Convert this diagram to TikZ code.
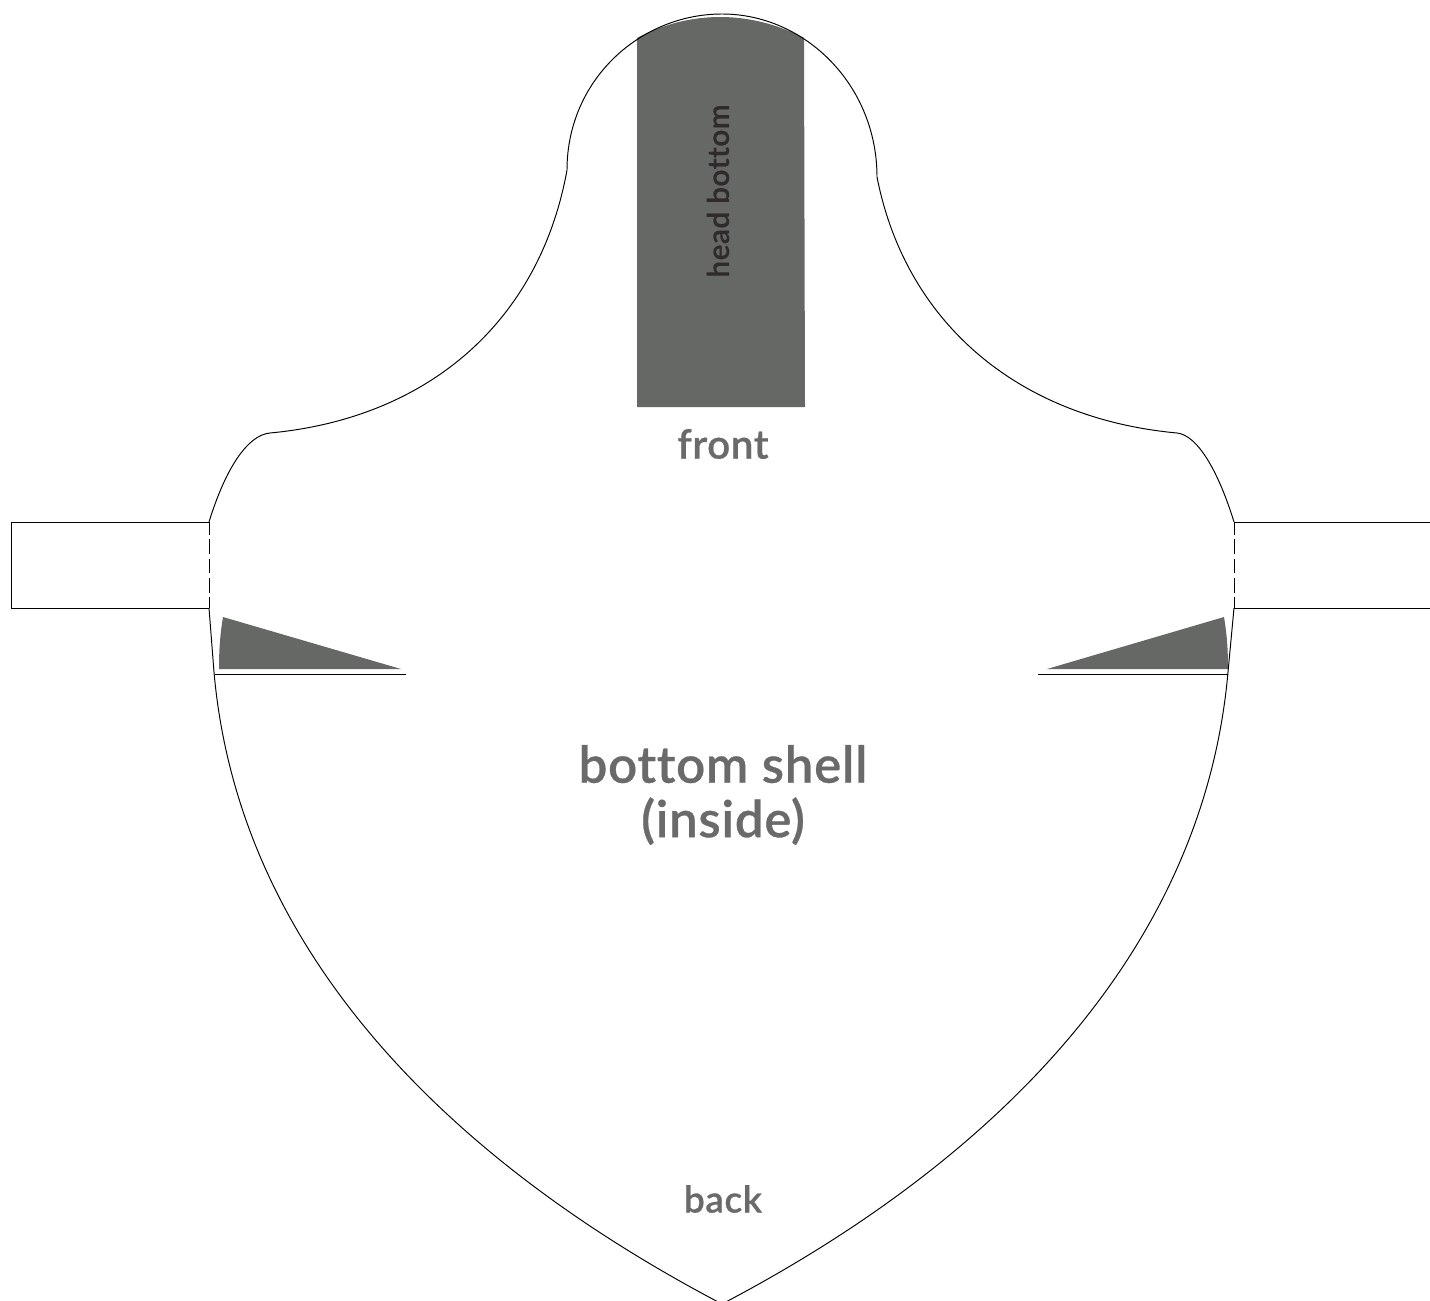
\documentclass[tikz,border=0pt]{standalone}
\usepackage{fontspec}
\setmainfont[BoldFont={Lato Semibold}, BoldFeatures={FakeBold=0.6}, Ligatures=NoCommon, LetterSpace=1.5]{Lato}
\definecolor{shellgray}{HTML}{666866}
\definecolor{labelgray}{HTML}{6A6A6A}
\definecolor{headtext}{HTML}{2F2B2C}
\tikzset{
  outline/.style={black, line width=0.55pt},
  cutline/.style={outline, dash pattern=on 8.5pt off 2.4pt, dash phase=1pt},
  patch/.style={fill=shellgray, draw=none},
  biglabel/.style={text=labelgray, font=\fontsize{29}{31}\selectfont\bfseries, align=center},
  smalllabel/.style={text=labelgray, font=\fontsize{21}{24}\selectfont\bfseries}
}
\begin{document}
\begin{tikzpicture}[x=0.02cm, y=-0.02cm]
        \useasboundingbox (0,0) rectangle (1430,1301);

        % Patches
        \fill[patch] (637,407) -- (637,38) .. controls (690,10) and (750,10) .. (804,38) -- (805,407) -- cycle;
        \fill[patch] (223,617) -- (401,669) -- (219,669) .. controls (219,650) and (220,635) .. (223,617) -- cycle;
        \fill[patch] (1224,617) -- (1047,669) -- (1228,669) .. controls (1228,650) and (1227,635) .. (1224,617) -- cycle;

        % Shell outline
        \draw[outline] (209,522) .. controls (225,470) and (247,435) .. (270,433)
            .. controls (430,418) and (540,320) .. (567,170)
            .. controls (567,80) and (640,14) .. (722,14)
            .. controls (805,14) and (877,85) .. (877,177)
            .. controls (905,320) and (1015,418) .. (1177,433)
            .. controls (1197,435) and (1218,470) .. (1234,522);
        \draw[outline] (209,608) -- (214,672) .. controls (238,945) and (440,1156) .. (722,1304);
        \draw[outline] (1234,608) -- (1228,672) .. controls (1204,945) and (1004,1156) .. (722,1304);

        % Straps
        \draw[outline] (209,522) -- (11.5,522) -- (11.5,608) -- (209,608);
        \draw[outline] (1234,522) -- (1430,522);
        \draw[outline] (1234,608) -- (1430,608);
        \draw[cutline] (209,522) -- (209,608);
        \draw[cutline] (1234,522) -- (1234,608);

        % Slits
        \draw[outline] (215,674) -- (406,674);
        \draw[outline] (1038,674) -- (1228,674);

        % Labels
        \node[biglabel] (shell) at (723,795) {bottom shell\\(inside)};
        \node[smalllabel, font=\fontsize{23}{24}\selectfont\bfseries] (front) at (723,444) {front};
        \node[smalllabel] (back) at (723,1199) {back};
        \node[rotate=90, text=headtext, font=\fontsize{17}{20}\selectfont\bfseries] (head) at (718,191) {head bottom};
    \end{tikzpicture}
\end{document}
